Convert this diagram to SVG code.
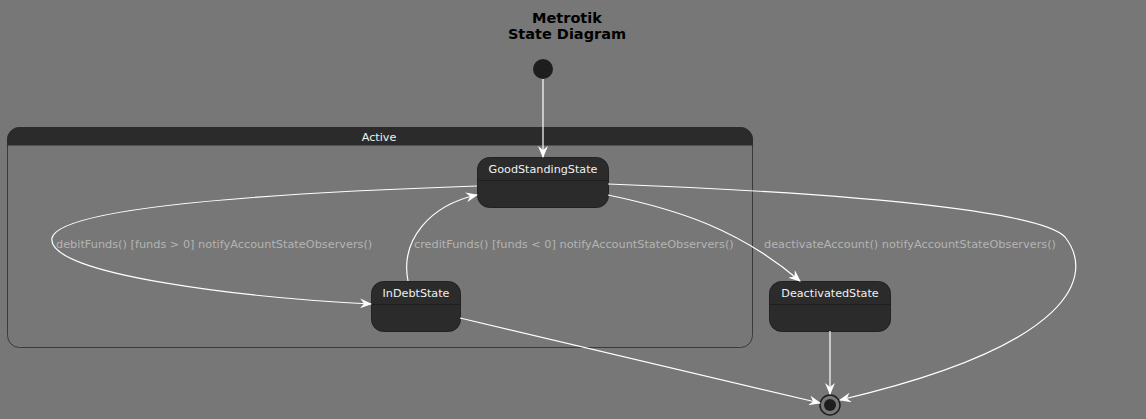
<svg xmlns="http://www.w3.org/2000/svg" width="1146" height="419" viewBox="0 0 1146 419">
<defs>
<style>
.state{fill:#2b2b2b;stroke:#222;stroke-width:1}
.sep{stroke:#1e1e1e;stroke-width:1}
.name{font-family:"DejaVu Sans",sans-serif;font-size:11.2px;fill:#f0f0f0;text-anchor:middle}
.lbl{font-family:"DejaVu Sans",sans-serif;font-size:11.3px;fill:#b4b4b4}
.edge{fill:none;stroke:#ffffff;stroke-width:1.2;marker-end:url(#arr)}
.title{font-family:"DejaVu Sans",sans-serif;font-size:14.5px;font-weight:bold;fill:#000;text-anchor:middle}
</style>
<marker id="arr" viewBox="0 0 12 10" refX="11" refY="5" markerWidth="12" markerHeight="10" markerUnits="userSpaceOnUse" orient="auto">
<path d="M0,0 L12,5 L0,10 L4,5 Z" fill="#ffffff"/>
</marker>
</defs>
<rect width="1146" height="419" fill="#777777"/>
<g id="title">
<text class="title" x="567" y="23">Metrotik</text>
<text class="title" x="567" y="39">State Diagram</text>
</g>
<g id="Active">
<rect x="7.5" y="127.5" width="745" height="220" rx="12" fill="none" stroke="#3a3a3a" stroke-width="1"/>
<path d="M7.5,145 L7.5,139.5 A12,12 0 0 1 19.5,127.5 L740.5,127.5 A12,12 0 0 1 752.5,139.5 L752.5,145 Z" fill="#2b2b2b" stroke="#2b2b2b"/>
<text class="name" x="379" y="141">Active</text>
</g>
<g id="start">
<circle cx="543" cy="69" r="10" fill="#1e1e1e"/>
</g>
<g id="GoodStandingState">
<rect class="state" x="477.5" y="157.5" width="131" height="50" rx="12"/>
<line class="sep" x1="477.5" y1="180.5" x2="608.5" y2="180.5"/>
<text class="name" x="543" y="173">GoodStandingState</text>
</g>
<g id="InDebtState">
<rect class="state" x="371.5" y="281.5" width="89" height="50" rx="12"/>
<line class="sep" x1="371.5" y1="304.5" x2="460.5" y2="304.5"/>
<text class="name" x="416" y="297">InDebtState</text>
</g>
<g id="DeactivatedState">
<rect class="state" x="769.5" y="281.5" width="121" height="50" rx="12"/>
<line class="sep" x1="769.5" y1="304.5" x2="890.5" y2="304.5"/>
<text class="name" x="830" y="297">DeactivatedState</text>
</g>
<g id="end">
<circle cx="830" cy="405" r="10" fill="none" stroke="#1e1e1e" stroke-width="1.5"/>
<circle cx="830" cy="405" r="6" fill="#1e1e1e"/>
</g>
<g id="connectors">
<path class="edge" d="M543,79 L543,157"/>
<path class="edge" d="M477,186 C300,192 60,205 52,238 C45,275 250,298 371,304"/>
<path class="edge" d="M408,281 C400,240 430,205 477,195"/>
<path class="edge" d="M608,195 C680,210 740,230 800,281"/>
<path class="edge" d="M608,184 C900,195 1045,215 1065,237 C1095,275 1075,345 840,400"/>
<path class="edge" d="M460,318 L820,403"/>
<path class="edge" d="M830,331 L830,394"/>
<text class="lbl" x="56" y="248">debitFunds() [funds &gt; 0] notifyAccountStateObservers()</text>
<text class="lbl" x="414" y="248">creditFunds() [funds &lt; 0] notifyAccountStateObservers()</text>
<text class="lbl" x="764" y="248">deactivateAccount() notifyAccountStateObservers()</text>
</g>
</svg>
